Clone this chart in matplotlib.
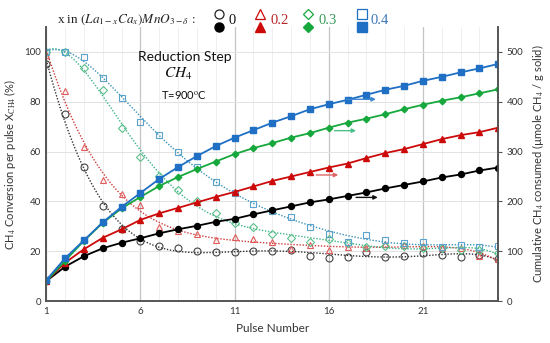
import numpy as np
import matplotlib
matplotlib.use("Agg")
import matplotlib.pyplot as plt
from matplotlib.lines import Line2D

plt.rcParams["font.family"] = ["Lato", "DejaVu Sans"]
plt.rcParams["mathtext.fontset"] = "stix"

pulse = np.arange(1, 26)

# conversion per pulse (%), open markers, left axis
conv_00 = [95, 75, 54, 38, 29, 24, 22, 21.2, 20.2, 19.6, 19.8, 20.2, 20.2, 20.6,
           18.2, 17.1, 17.8, 19.6, 17.8, 18, 19.3, 18.5, 17.6, 18.3, 16.9]
conv_02 = [98.8, 84.5, 62, 48.6, 43, 38.5, 29.8, 28, 26.9, 24.5, 25.8, 24.8, 23.8,
           20.9, 22.5, 20.5, 21.6, 21.2, 23, 22.5, 22.1, 21.2, 21.2, 18.2, 16.7]
conv_03 = [100, 100, 93.4, 84.7, 69.6, 57.7, 50, 44.5, 40, 35.5, 31.4, 29.6, 26.8,
           25.4, 23.8, 24.8, 23.4, 21.8, 22.1, 22.1, 21.2, 21.2, 20.5, 20.5, 19.1]
conv_04 = [100, 100, 98.1, 89.4, 81.6, 72, 66.7, 60, 54, 47.7, 43.2, 39.1, 36.3,
           33.9, 29.8, 27, 23.6, 26.5, 24.5, 23.2, 23.8, 21.6, 22.5, 21.6, 22.1]

# cumulative CH4 consumed (umol/g), filled markers, right axis
cum_00 = [40, 69, 90, 106, 117, 126, 136, 144, 151, 159, 165, 174, 182, 190, 198,
          204, 211, 218, 226, 233, 240, 248, 254, 262, 268]
cum_02 = [40, 77, 104, 127, 144, 163, 176, 187, 198, 209, 219, 230, 241, 250, 259,
          268, 276, 287, 297, 305, 315, 325, 333, 339, 348]
cum_03 = [40, 81, 121, 157, 186, 209, 231, 249, 265, 280, 295, 307, 317, 328, 337,
          348, 358, 366, 375, 385, 394, 402, 409, 417, 425]
cum_04 = [42, 86, 122, 158, 189, 217, 245, 269, 291, 311, 328, 343, 358, 371, 385,
          395, 404, 414, 424, 432, 442, 450, 459, 467, 476]

labels = ["0", "0.2", "0.3", "0.4"]
# (open marker, open colour, trend colour, filled colour, text colour)
STYLE = [
    ("o", "#444444", "#333333", "#000000", "#111111"),
    ("^", "#e05a5a", "#cc3b3b", "#cc0a0a", "#b5262b"),
    ("D", "#5cc08a", "#3fb38a", "#16a83c", "#3a9a5a"),
    ("s", "#5aa3cc", "#3a92b8", "#1f6fc4", "#3d78b8"),
]
# arrows pointing at the right axis: (x0, x1, y on right axis)
ARROWS = [(17.45, 18.6, 208), (15.33, 16.5, 253), (16.3, 17.45, 342), (16.9, 18.5, 405)]
ARROW_COL = ["#111111", "#e06666", "#4cc08a", "#3a86d0"]

fig = plt.figure(figsize=(5.5, 3.43), dpi=100)
ax = fig.add_axes([0.0842, 0.1224, 0.8218, 0.7988])
ax2 = ax.twinx()

xs = np.linspace(1, 25, 300)
convs = [conv_00, conv_02, conv_03, conv_04]
cums = [cum_00, cum_02, cum_03, cum_04]
for conv, cum, (mk, oc, tc, fc, _), arr, acol in zip(convs, cums, STYLE, ARROWS, ARROW_COL):
    coef = np.polyfit(pulse, conv, 6)
    ax.plot(xs, np.polyval(coef, xs), ls=(0, (1, 1.2)), color=tc, lw=1.0)
    ax.plot(pulse, conv, ls="none", marker=mk, ms=5.0 if mk != "D" else 4.0,
            mfc="none", mec=oc, mew=0.8)
    ax2.plot(pulse, cum, color=fc, lw=1.3, marker=mk, ms=4.3 if mk != "D" else 3.3,
             mfc=fc, mec=fc)
    ax2.annotate("", xy=(arr[1], arr[2]), xytext=(arr[0], arr[2]),
                 arrowprops=dict(arrowstyle="-|>", color=acol, lw=1.0,
                                 mutation_scale=6, shrinkA=0, shrinkB=0))

ax.set_xlim(1, 25)
ax.set_ylim(0, 110)
ax2.set_ylim(0, 550)
ax.set_yticks([0, 20, 40, 60, 80, 100])
ax2.set_yticks([0, 100, 200, 300, 400, 500])
ax.set_xticks([1, 6, 11, 16, 21])
ax.set_xticks(np.arange(1, 26), minor=True)
ax.set_yticks(np.arange(0, 111, 10), minor=True)

ax.grid(which="major", axis="x", color="#c4c4c4", lw=0.9)
ax.grid(which="minor", axis="x", color="#ececec", lw=0.6)
ax.grid(which="major", axis="y", color="#e2e2e2", lw=0.7)
ax.set_axisbelow(True)

for a in (ax, ax2):
    a.spines["top"].set_visible(False)
    for s in ("left", "right", "bottom"):
        a.spines[s].set_color("#555555")
        a.spines[s].set_linewidth(1.2)
ax.tick_params(which="both", length=0, labelsize=7, colors="#333333", pad=4)
ax2.tick_params(axis="y", length=3, width=0.8, colors="#555555", labelsize=7,
                labelcolor="#333333", pad=3)

ax.set_xlabel("Pulse Number", fontsize=8.5, color="#333333", labelpad=5)
ax.set_ylabel(r"CH$_4$ Conversion per pulse X$_{\mathrm{CH4}}$ (%)", fontsize=8,
              color="#333333", labelpad=4)
ax2.set_ylabel(r"Cumulative CH$_4$ consumed (µmole CH$_4$ / g solid)", fontsize=8,
               color="#333333", labelpad=5)

ax.text(8.35, 97.8, "Reduction Step", fontsize=10, ha="center", va="center", color="#111111")
ax.text(8.0, 91.3, r"$CH_4$", fontsize=11, ha="center", va="center", color="#111111")
ax.text(8.3, 82.7, "T=900$^{\\mathrm{o}}$C", fontsize=8, ha="center", va="center",
        color="#111111")

# legend across the top, in pixel coordinates of the figure
W, H = 550, 343
fig.text(126 / W, 1 - 20 / H, r"x in $(La_{1-x}Ca_x)MnO_{3-\delta}$ :",
         fontsize=9.5, family=["Liberation Serif", "DejaVu Serif"],
         ha="center", va="center", color="#222222")
for (mk, oc, tc, fc, txc), lab, px, tx in zip(STYLE, labels,
                                              [219, 260, 308, 362],
                                              [232, 280, 328, 380]):
    ms = 6.5 if mk != "D" else 5.5
    fig.add_artist(Line2D([px / W], [1 - 13.5 / H], marker=mk, ms=ms, mfc="white",
                          mec=fc if mk != "o" else "#222222", mew=0.9,
                          transform=fig.transFigure))
    fig.add_artist(Line2D([px / W], [1 - 27 / H], marker=mk, ms=ms, mfc=fc, mec=fc,
                          transform=fig.transFigure))
    fig.text(tx / W, 1 - 21 / H, lab, fontsize=10.5, color=txc,
             family=["Liberation Serif", "DejaVu Serif"], ha="center", va="center")

fig.savefig("out.png", dpi=100)
